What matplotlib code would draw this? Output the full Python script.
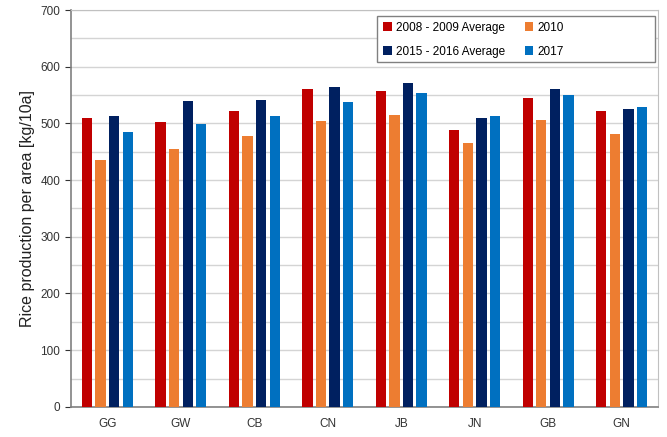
import numpy as np
import matplotlib
matplotlib.use("Agg")
import matplotlib.pyplot as pl
from matplotlib.patches import Rectangle

pl.rcParams["font.family"] = ["Liberation Sans", "DejaVu Sans"]

regions = ["GG", "GW", "CB", "CN", "JB", "JN", "GB", "GN"]
series_names = ["2008 - 2009 Average", "2010", "2015 - 2016 Average", "2017"]
avg_2008_2009 = [509, 502, 522, 560, 557, 488, 544, 522]
year_2010 = [435, 454, 478, 504, 515, 465, 506, 481]
avg_2015_2016 = [513, 539, 542, 565, 571, 510, 561, 525]
year_2017 = [484, 499, 513, 538, 554, 513, 551, 529]
colors = ["#C00000", "#ED7D31", "#002060", "#0070C0"]

fig = pl.figure(figsize=(6.67, 4.37), dpi=100)
ax = fig.add_axes([0.106, 0.069, 0.881, 0.908])

x = np.arange(len(regions))
pitch = 0.185
width = 0.14
all_series = [avg_2008_2009, year_2010, avg_2015_2016, year_2017]
bars = []
for i, (vals, name, c) in enumerate(zip(all_series, series_names, colors)):
    b = ax.bar(x + (i - 1.5) * pitch, vals, width, color=c, label=name, zorder=3)
    bars.append(b)

ax.set_xlim(-0.5, len(regions) - 0.5)
ax.set_ylim(0, 700)
ax.set_yticks(np.arange(0, 701, 100))
ax.set_yticks(np.arange(50, 700, 100), minor=True)
ax.set_xticks(x)
ax.set_xticklabels(regions)
ax.tick_params(axis="x", length=0, labelsize=8.5, colors="#333333", pad=8)
ax.tick_params(axis="y", which="major", length=4, labelsize=8.5, colors="#333333")
ax.tick_params(axis="y", which="minor", length=0)
ax.grid(True, axis="y", which="both", color="#d4d4d4", linewidth=1, zorder=0)
ax.set_ylabel("Rice production per area [kg/10a]", fontsize=11.5, color="#222222")

for side in ["left", "bottom"]:
    ax.spines[side].set_color("#808080")
    ax.spines[side].set_linewidth(1.2)
for side in ["top", "right"]:
    ax.spines[side].set_color("#c0c0c0")

# the original legend box is much wider than its entries, so draw the frame separately
frame = Rectangle((0.521, 0.869), 0.474, 0.116, transform=ax.transAxes,
                  facecolor="white", edgecolor="#808080", linewidth=1.0, zorder=4)
ax.add_patch(frame)

# ncol fills column by column, so reorder to get rows like the original
order = [0, 2, 1, 3]
leg = ax.legend([bars[k] for k in order], [series_names[k] for k in order],
                ncol=2, loc="upper left", bbox_to_anchor=(0.521, 0.987),
                borderaxespad=0, fontsize=8.5, frameon=False, handlelength=0.7,
                handleheight=0.7, columnspacing=1.7, borderpad=0.55, labelspacing=1.0,
                handletextpad=0.35)
leg.set_zorder(5)

fig.savefig("out.png", dpi=100)
